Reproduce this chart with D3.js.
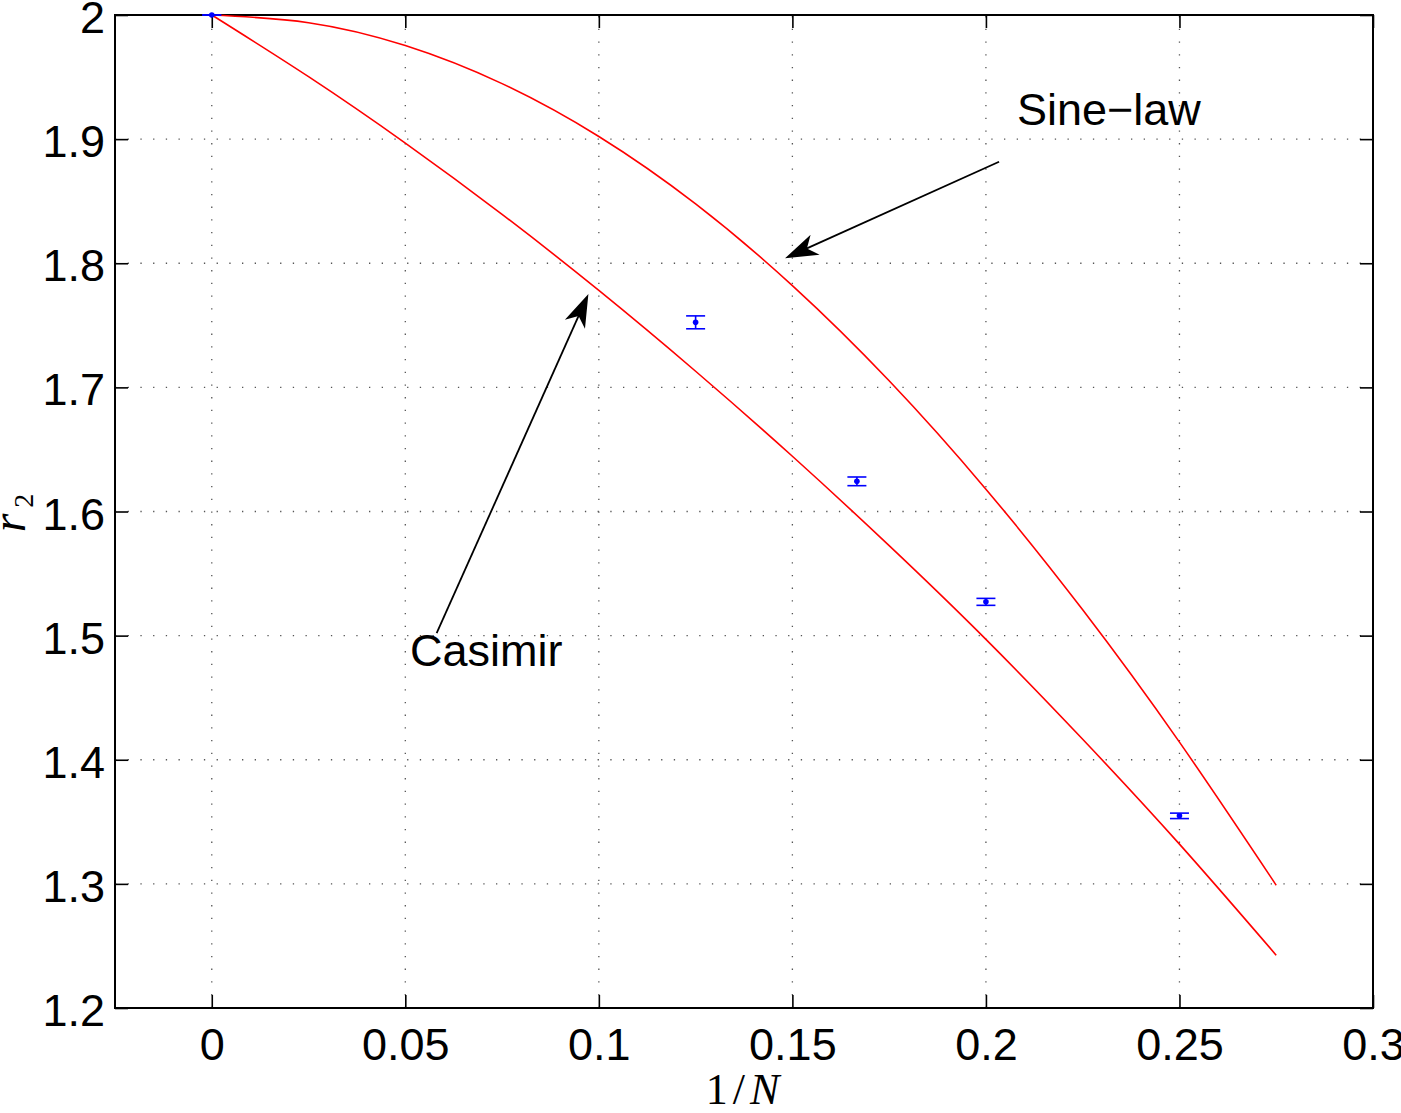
<!DOCTYPE html>
<html>
<head>
<meta charset="utf-8">
<script src="https://cdn.jsdelivr.net/npm/d3@7"></script>
<style>
  html, body { margin: 0; padding: 0; background: #fff; }
  text { font-family: "Liberation Sans", Arial, sans-serif; }
</style>
</head>
<body>
<svg id="chart" width="1401" height="1113"></svg>
<script>
// Sample abscissae for the two model curves (1/N)
const curveX = [0, 0.025, 0.05, 0.075, 0.1, 0.125, 0.15, 0.175, 0.2, 0.225, 0.25, 0.275];
// Sine-law prediction for r2
const sineLaw = [2.0, 1.9938, 1.9754, 1.9447, 1.9021, 1.8478, 1.7820, 1.7053, 1.6180, 1.5208, 1.4142, 1.2989];
// Casimir prediction for r2
const casimir = [2.0, 1.9503, 1.8968, 1.8394, 1.7781, 1.7130, 1.6445, 1.5725, 1.4970, 1.4165, 1.3320, 1.2425];

// Measured ratios with error bars
const pointX = [0, 0.125, 1 / 6, 0.2, 0.25];
const pointY = [2.0, 1.7524, 1.6243, 1.5272, 1.3548];
const pointErr = [0, 0.0052, 0.0035, 0.0028, 0.0022];

// Axis ticks
const xTicks = [0, 0.05, 0.1, 0.15, 0.2, 0.25, 0.3];
const xTickLabels = ["0", "0.05", "0.1", "0.15", "0.2", "0.25", "0.3"];
const yTicks = [1.2, 1.3, 1.4, 1.5, 1.6, 1.7, 1.8, 1.9, 2];
const yTickLabels = ["1.2", "1.3", "1.4", "1.5", "1.6", "1.7", "1.8", "1.9", "2"];

// Annotation arrows: [label x, label y, tip x, tip y] in data units
const sineArrow = [0.2034, 1.8818, 0.1481, 1.8040];
const casimirArrow = [0.0581, 1.5020, 0.0973, 1.7752];

const svg = d3.select("#chart");
const L = 115, T = 15, R = 1373, B = 1008;

const x = d3.scaleLinear().domain([-0.025, 0.3]).range([L, R]);
const y = d3.scaleLinear().domain([1.2, 2]).range([B, T]);

// Dotted grid
const grid = svg.append("g").attr("stroke", "#555").attr("stroke-width", 1.3)
  .attr("stroke-dasharray", "1.3,11.4");
grid.selectAll("line.gx").data(xTicks.slice(0, -1)).join("line")
  .attr("x1", d => x(d)).attr("x2", d => x(d)).attr("y1", B).attr("y2", T);
grid.selectAll("line.gy").data(yTicks.slice(1, -1)).join("line")
  .attr("x1", L).attr("x2", R).attr("y1", d => y(d)).attr("y2", d => y(d));

// Axes with inward ticks on all four sides
const tickLen = 13;
const axBottom = svg.append("g").attr("transform", `translate(0,${B})`)
  .call(d3.axisBottom(x).tickValues(xTicks).tickSize(-tickLen).tickPadding(20)
    .tickFormat((d, i) => xTickLabels[i]));
const axTop = svg.append("g").attr("transform", `translate(0,${T})`)
  .call(d3.axisTop(x).tickValues(xTicks).tickSize(-tickLen).tickFormat(""));
const axLeft = svg.append("g").attr("transform", `translate(${L},0)`)
  .call(d3.axisLeft(y).tickValues(yTicks).tickSize(-tickLen).tickPadding(10)
    .tickFormat((d, i) => yTickLabels[i]));
const axRight = svg.append("g").attr("transform", `translate(${R},0)`)
  .call(d3.axisRight(y).tickValues(yTicks).tickSize(-tickLen).tickFormat(""));

[axBottom, axTop, axLeft, axRight].forEach(g => {
  g.select(".domain").remove();
  g.selectAll(".tick line").attr("stroke", "#000").attr("stroke-width", 1.6);
  g.selectAll(".tick text").attr("fill", "#000").style("font-size", "45px")
    .style("font-family", "'Liberation Sans', Arial, sans-serif");
});
axBottom.selectAll(".tick text").attr("dy", "0.71em");
axLeft.selectAll(".tick text").attr("dy", "0.39em");

// Frame
svg.append("rect").attr("x", L).attr("y", T).attr("width", R - L).attr("height", B - T)
  .attr("fill", "none").attr("stroke", "#000").attr("stroke-width", 2);

// Model curves
const line = d3.line().x(d => x(d[0])).y(d => y(d[1])).curve(d3.curveNatural);
svg.append("path").datum(curveX.map((v, i) => [v, sineLaw[i]]))
  .attr("d", line).attr("fill", "none").attr("stroke", "#ff0000").attr("stroke-width", 1.6);
svg.append("path").datum(curveX.map((v, i) => [v, casimir[i]]))
  .attr("d", line).attr("fill", "none").attr("stroke", "#ff0000").attr("stroke-width", 1.6);

// Error bars and markers
const pts = pointX.map((v, i) => ({ x: v, y: pointY[i], e: pointErr[i] }));
const eb = svg.append("g").attr("stroke", "#0000ff").attr("stroke-width", 1.6);
const capW = 9.5;
eb.selectAll("line.v").data(pts).join("line")
  .attr("x1", d => x(d.x)).attr("x2", d => x(d.x))
  .attr("y1", d => y(d.y - d.e)).attr("y2", d => y(d.y + d.e));
eb.selectAll("line.top").data(pts).join("line")
  .attr("x1", d => x(d.x) - capW).attr("x2", d => x(d.x) + capW)
  .attr("y1", d => y(d.y + d.e)).attr("y2", d => y(d.y + d.e));
eb.selectAll("line.bot").data(pts).join("line")
  .attr("x1", d => x(d.x) - capW).attr("x2", d => x(d.x) + capW)
  .attr("y1", d => y(d.y - d.e)).attr("y2", d => y(d.y - d.e));
svg.append("g").selectAll("circle").data(pts).join("circle")
  .attr("cx", d => x(d.x)).attr("cy", d => y(d.y)).attr("r", 2.8).attr("fill", "#0000ff");

// Annotation arrows
function arrow(a) {
  const x0 = x(a[0]), y0 = y(a[1]), x1 = x(a[2]), y1 = y(a[3]);
  const ang = Math.atan2(y1 - y0, x1 - x0);
  const len = 33, half = 11, back = 24;
  const bx = x1 - len * Math.cos(ang), by = y1 - len * Math.sin(ang);
  const nx = -Math.sin(ang), ny = Math.cos(ang);
  const ix = x1 - back * Math.cos(ang), iy = y1 - back * Math.sin(ang);
  svg.append("line").attr("x1", x0).attr("y1", y0).attr("x2", ix).attr("y2", iy)
    .attr("stroke", "#000").attr("stroke-width", 1.8);
  svg.append("path")
    .attr("d", `M${x1},${y1}L${bx + nx * half},${by + ny * half}L${ix},${iy}L${bx - nx * half},${by - ny * half}Z`)
    .attr("fill", "#000");
}
arrow(sineArrow);
arrow(casimirArrow);

svg.append("text").attr("x", 1017).attr("y", 125).style("font-size", "45px").attr("fill", "#000")
  .text("Sine\u2212law");
svg.append("text").attr("x", 410).attr("y", 666).style("font-size", "45px").attr("fill", "#000")
  .text("Casimir");

// Axis titles
const xl = svg.append("text").attr("x", 745).attr("y", 1104).attr("text-anchor", "middle")
  .style("font-family", "'Liberation Serif', 'DejaVu Serif', serif").style("font-size", "44px")
  .style("letter-spacing", "5px").attr("fill", "#000");
xl.append("tspan").text("1/");
xl.append("tspan").style("font-style", "italic").text("N");

const yl = svg.append("text").attr("transform", "translate(25,513) rotate(-90)")
  .attr("text-anchor", "middle")
  .style("font-family", "'Liberation Serif', 'DejaVu Serif', serif").style("font-size", "48px")
  .attr("fill", "#000");
yl.append("tspan").style("font-style", "italic").text("r");
yl.append("tspan").attr("dx", 6).attr("dy", 8).style("font-size", "28px").text("2");
</script>
</body>
</html>
